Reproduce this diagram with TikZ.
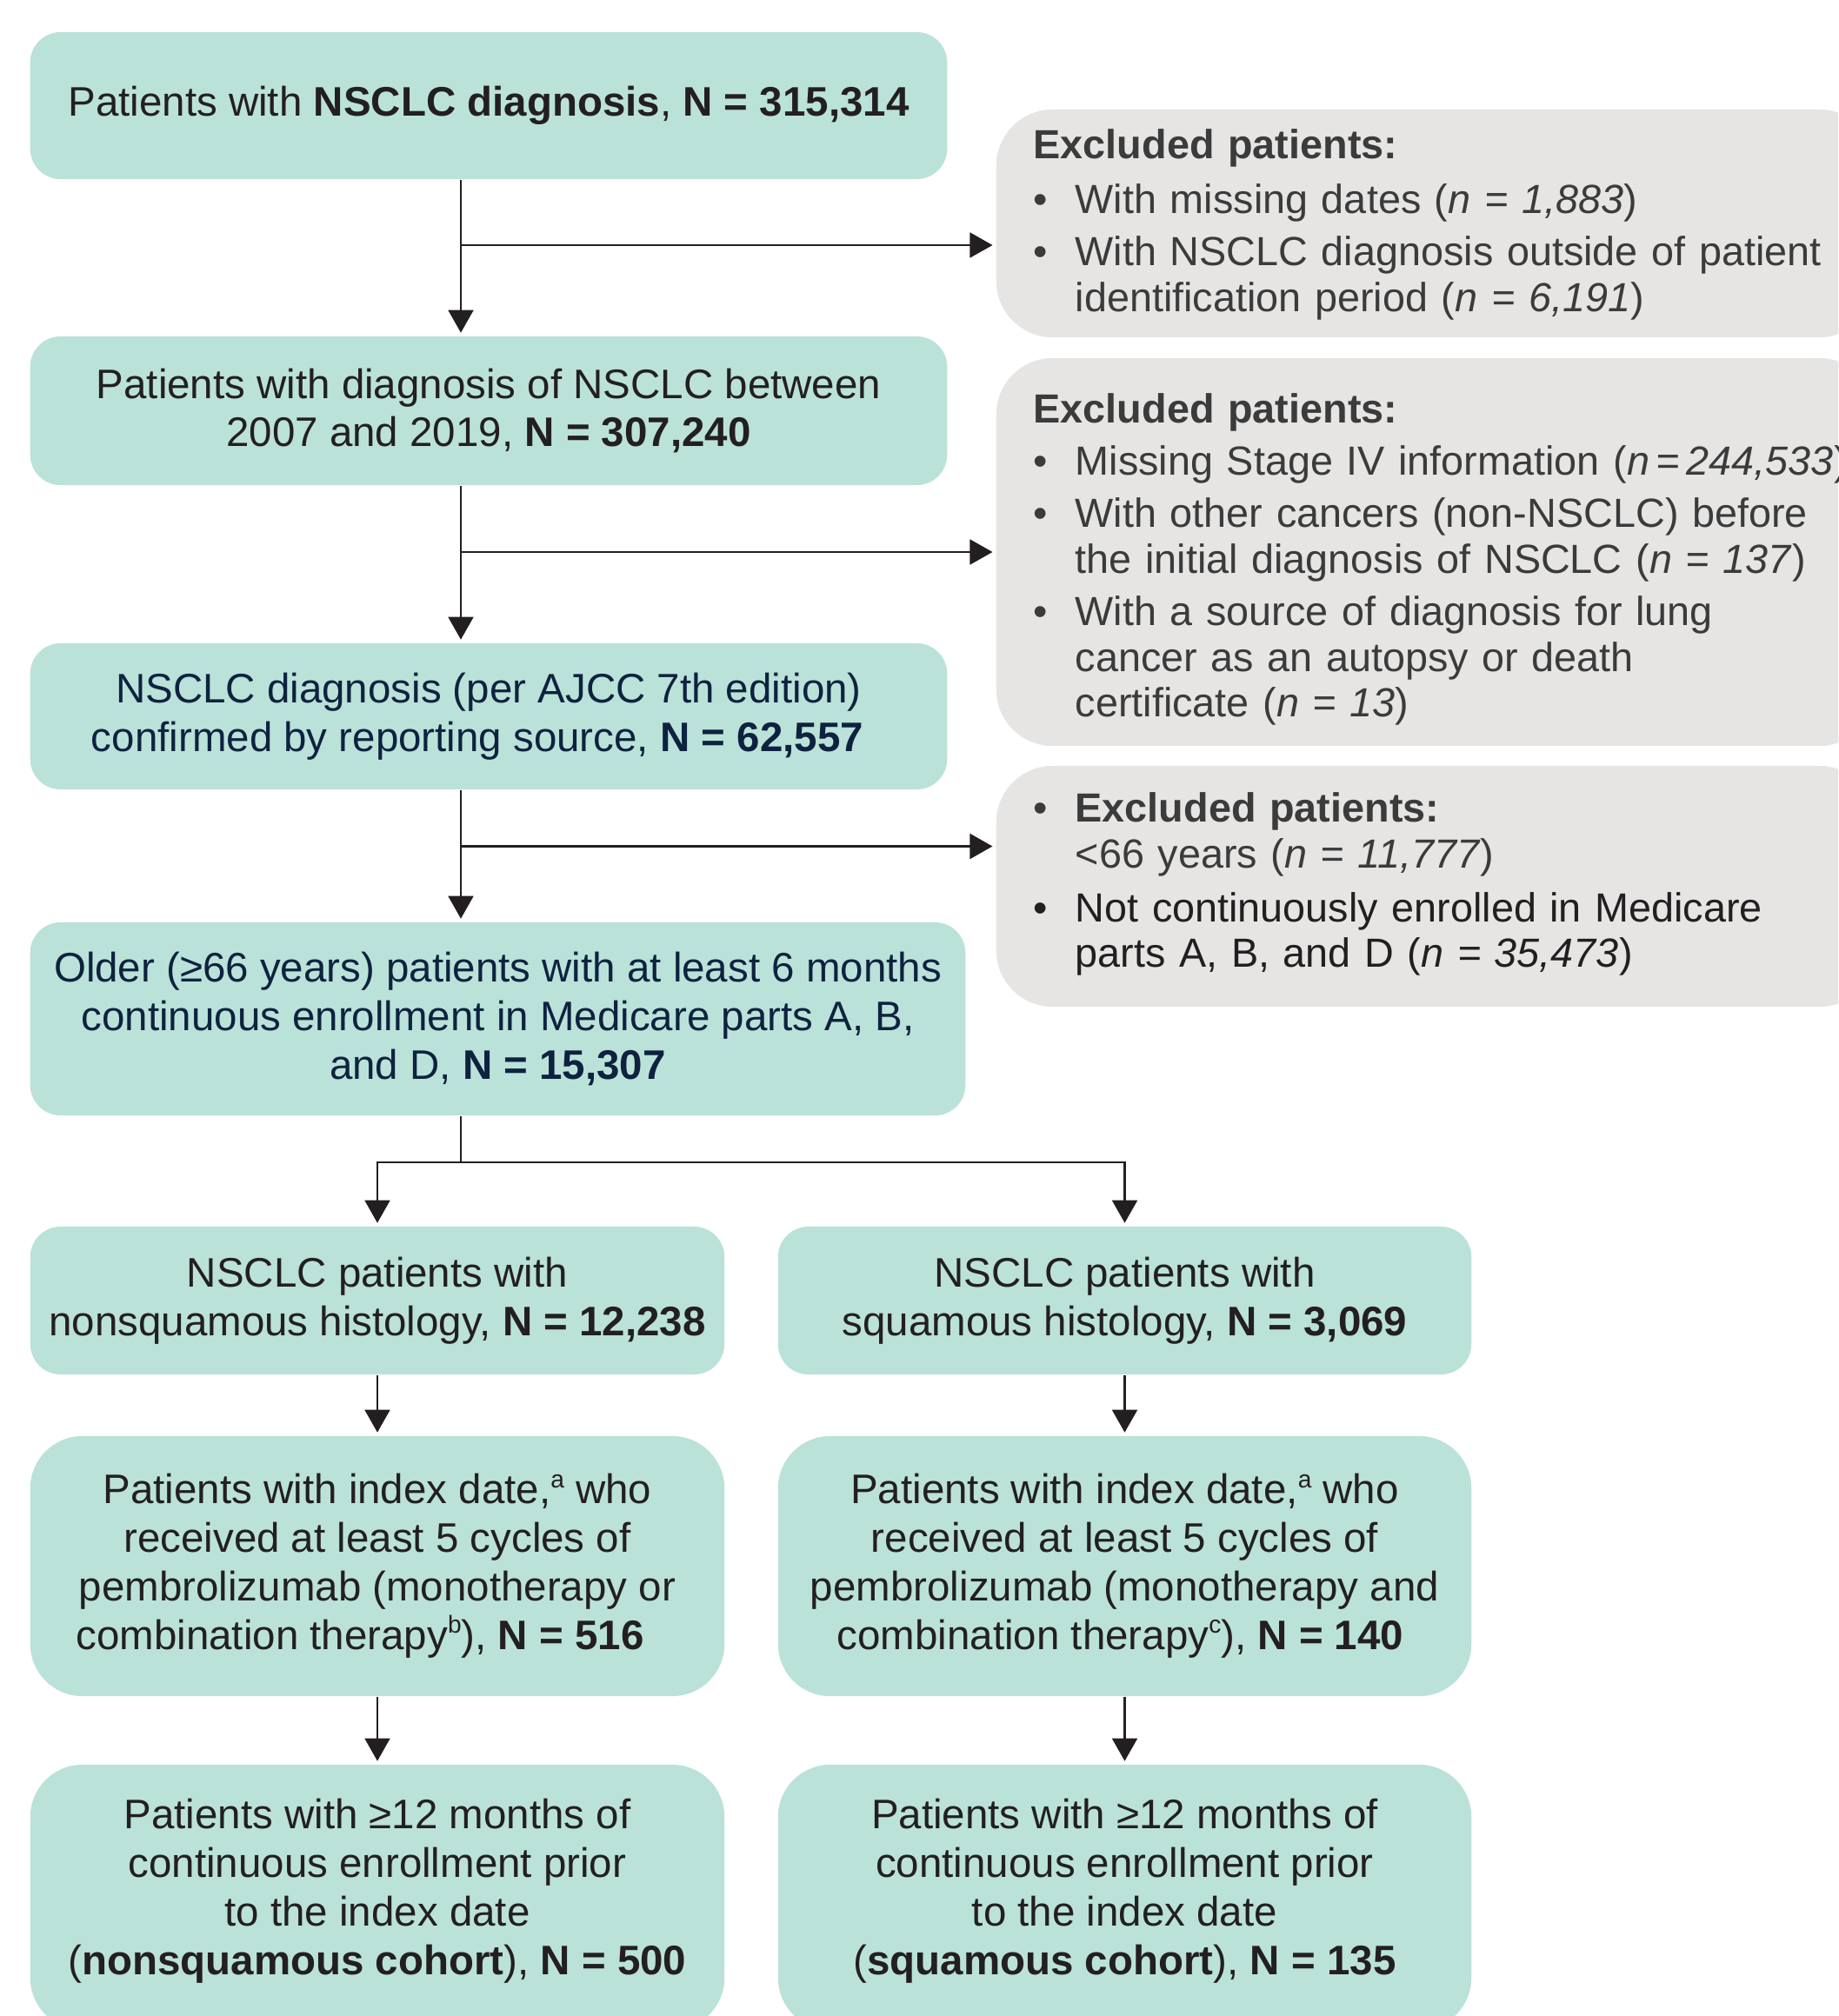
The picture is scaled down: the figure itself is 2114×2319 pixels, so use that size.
\documentclass[tikz,border=0pt]{standalone}
\usepackage{fontspec}
\setmainfont{Liberation Sans}
\usetikzlibrary{arrows.meta}
\definecolor{boxgreen}{HTML}{BBE2D8}
\definecolor{boxgray}{HTML}{E6E5E4}
\definecolor{txtdark}{HTML}{231F20}
\definecolor{txtnavy}{HTML}{0E2240}
\definecolor{txtgray}{HTML}{3B3B3B}
\definecolor{linecol}{HTML}{231F20}
\newcommand{\nn}[1]{\textit{#1}}
\newcommand{\sups}[1]{\raisebox{0.75ex}{\fontsize{8pt}{8pt}\selectfont #1}}
\begin{document}
\begin{tikzpicture}[x=0.01cm,y=-0.01cm,
  gbox/.style={fill=boxgreen, draw=none, rounded corners=0.35cm, align=center,
    text=txtdark, inner sep=0pt, font=\fontsize{13.5pt}{15.9pt}\selectfont},
  gtext/.style={align=center, text=txtdark, inner sep=0pt, font=\fontsize{13.5pt}{15.9pt}\selectfont},
  xbox/.style={fill=boxgray, draw=none, rounded corners=0.65cm, align=left,
    text=txtgray, inner sep=0pt, font=\fontsize{13.3pt}{15pt}\selectfont},
  arr/.style={draw=linecol, line width=0.71pt, -{Triangle[width=8.2pt,length=7.4pt]}, shorten >=1pt},
  ln/.style={draw=linecol, line width=0.71pt}
]
\useasboundingbox (0,0) rectangle (2114,2319);
\clip (0,0) rectangle (2114,2319);

% main column
\node[gbox, minimum width=10.54cm, minimum height=1.69cm] (b1) at (562,121.5)
  {Patients with \textbf{NSCLC diagnosis}, \textbf{N = 315,314}};
\node[gbox, minimum width=10.54cm, minimum height=1.71cm] (b2) at (562,472.5)
  {Patients with diagnosis of NSCLC between\\2007 and 2019, \textbf{N = 307,240}};
\node[gbox, text=txtnavy, minimum width=10.54cm, minimum height=1.68cm] (b3) at (562,824)
  {NSCLC diagnosis (per AJCC 7th edition)\\confirmed by reporting source, \textbf{N = 62,557}\hspace*{0.26cm}};
\node[gbox, text=txtnavy, minimum width=10.75cm, minimum height=2.22cm] (b4) at (572.5,1172)
  {Older (≥66 years) patients with at least 6 months\\continuous enrollment in Medicare parts A, B,\\and D, \textbf{N = 15,307}};

% two columns
\node[gbox, minimum width=7.98cm, minimum height=1.70cm] (l1) at (434,1496)
  {NSCLC patients with\\nonsquamous histology, \textbf{N = 12,238}};
\node[gbox, minimum width=7.97cm, minimum height=1.70cm] (r1) at (1293.5,1496)
  {NSCLC patients with\\squamous histology, \textbf{N = 3,069}};
\node[gbox, rounded corners=0.6cm, minimum width=7.98cm, minimum height=2.99cm] (l2) at (434,1801.5)
  {Patients with index date,\sups{a} who\\received at least 5 cycles of\\pembrolizumab (monotherapy or\\combination therapy\sups{b}), \textbf{N = 516}\hspace*{0.4cm}};
\node[gbox, rounded corners=0.6cm, minimum width=7.97cm, minimum height=2.99cm] (r2) at (1293.5,1801.5)
  {Patients with index date,\sups{a} who\\received at least 5 cycles of\\pembrolizumab (monotherapy and\\combination therapy\sups{c}), \textbf{N = 140}\hspace*{0.1cm}};
\node[gbox, rounded corners=0.6cm, minimum width=7.98cm, minimum height=3.05cm] (l3) at (434,2182.5) {};
\node[gtext] (l3t) at (434,2175)
  {Patients with ≥12 months of\\continuous enrollment prior\\to the index date\\(\textbf{nonsquamous cohort}), \textbf{N = 500}};
\node[gbox, rounded corners=0.6cm, minimum width=7.97cm, minimum height=3.05cm] (r3) at (1293.5,2182.5) {};
\node[gtext] (r3t) at (1293.5,2175)
  {Patients with ≥12 months of\\continuous enrollment prior\\to the index date\\(\textbf{squamous cohort}), \textbf{N = 135}};

% exclusion boxes
\node[xbox, minimum width=10.11cm, minimum height=2.62cm, text width=9.25cm] (g1) at (1651.5,257)
  {\raisebox{-0.03cm}[\height][\depth]{\begin{tabular}{@{}p{0.48cm}@{}l@{}}
   \multicolumn{2}{@{}l@{}}{\bfseries Excluded patients:}\\[2.9pt]
   \textbullet & With missing dates (\nn{n = 1,883})\\[2.1pt]
   \textbullet & With NSCLC diagnosis outside of patient\\
    & identification period (\nn{n = 6,191})
   \end{tabular}}};
\node[xbox, minimum width=10.11cm, minimum height=4.46cm, text width=9.25cm] (g2) at (1651.5,635)
  {\raisebox{-0.1cm}[\height][\depth]{\begin{tabular}{@{}p{0.48cm}@{}l@{}}
   \multicolumn{2}{@{}l@{}}{\bfseries Excluded patients:}\\[2.1pt]
   \textbullet & Missing Stage IV information (\nn{n\,=\,244,533})\\[2.1pt]
   \textbullet & With other cancers (non-NSCLC) before\\
    & the initial diagnosis of NSCLC (\nn{n = 137})\\[2.1pt]
   \textbullet & With a source of diagnosis for lung\\
    & cancer as an autopsy or death\\
    & certificate (\nn{n = 13})
   \end{tabular}}};
\node[xbox, minimum width=10.11cm, minimum height=2.77cm, text width=9.25cm] (g3) at (1651.5,1019.5)
  {\raisebox{0.01cm}[\height][\depth]{\begin{tabular}{@{}p{0.48cm}@{}l@{}}
   \textbullet & \textbf{Excluded patients:}\\
    & <66 years (\nn{n = 11,777})\\[2.6pt]
   \textcolor{txtdark}{\textbullet} & \textcolor{txtdark}{Not continuously enrolled in Medicare}\\
    & \textcolor{txtdark}{parts A, B, and D (\nn{n = 35,473})}
   \end{tabular}}};

% connectors
\coordinate (sx) at (530,0);
\coordinate (j1) at (530,282);
\coordinate (j2) at (530,635);
\coordinate (j3) at (530,973.5);
\coordinate (j4) at (530,1337);

\draw[arr] (b1.south -| sx) -- (b2.north -| sx);
\draw[arr] (j1) -- (j1 -| g1.west);
\draw[arr] (b2.south -| sx) -- (b3.north -| sx);
\draw[arr] (j2) -- (j2 -| g2.west);
\draw[arr] (b3.south -| sx) -- (b4.north -| sx);
\draw[arr] (j3) -- (j3 -| g3.west);

\draw[ln] (b4.south -| sx) -- (j4);
\draw[arr] (j4) -- (j4 -| l1.north) -- (l1.north);
\draw[arr] (j4) -- (j4 -| r1.north) -- (r1.north);
\draw[arr] (l1.south) -- (l2.north);
\draw[arr] (r1.south) -- (r2.north);
\draw[arr] (l2.south) -- (l3.north);
\draw[arr] (r2.south) -- (r3.north);
\end{tikzpicture}
\end{document}
